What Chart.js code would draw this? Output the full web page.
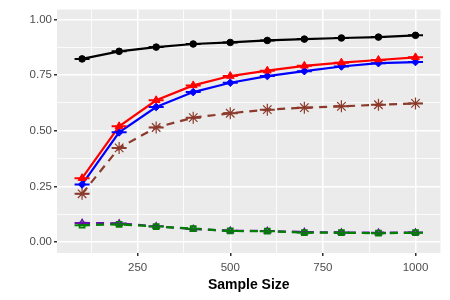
<!DOCTYPE html>
<html><head><meta charset="utf-8">
<script src="https://cdn.jsdelivr.net/npm/chart.js@4/dist/chart.umd.min.js"></script>
<style>html,body{margin:0;padding:0;background:#fff}#w{width:450px;height:300px}</style>
</head><body><div id="w"><canvas id="c" width="450" height="300"></canvas></div>
<script>
const sampleSizes = [100,200,300,400,500,600,700,800,900,1000];
const blackSeries = [0.823,0.857,0.876,0.890,0.897,0.906,0.912,0.917,0.921,0.929];
const redSeries   = [0.287,0.520,0.637,0.704,0.746,0.770,0.792,0.806,0.818,0.830];
const blueSeries  = [0.259,0.493,0.607,0.674,0.716,0.746,0.768,0.789,0.804,0.809];
const brownSeries = [0.217,0.423,0.515,0.559,0.579,0.595,0.604,0.610,0.617,0.623];
const greenSeries = [0.076,0.080,0.070,0.060,0.050,0.049,0.043,0.042,0.040,0.042];
const purpleSeries= [0.086,0.084,0.071,0.059,0.051,0.050,0.045,0.043,0.042,0.043];
const yTickLabels = ['0.00','0.25','0.50','0.75','1.00'];
const xTickLabels = ['250','500','750','1000'];

const pts = arr => sampleSizes.map((x,i)=>({x:x,y:arr[i]}));
function series(data,color,style,radius,dash,order,fill,pbw){
  return {data:pts(data),borderColor:color,backgroundColor:fill?color:'rgba(0,0,0,0)',borderWidth:2.2,
    borderDash:dash,pointStyle:style,pointRadius:radius,pointBorderWidth:pbw,pointBorderColor:color,
    pointBackgroundColor:fill?color:'rgba(0,0,0,0)',tension:0,order:order,showLine:true};
}
function errbar(data,color,order){
  return {data:pts(data),showLine:false,pointStyle:'line',pointRadius:7.5,pointBorderWidth:2,
    pointBorderColor:color,borderColor:color,order:order};
}
const panelBg = {id:'panelBg',beforeDraw(ch){const a=ch.chartArea,c=ch.ctx;c.save();c.fillStyle='#EBEBEB';c.fillRect(a.left,a.top,a.right-a.left,a.bottom-a.top);c.restore();}};
const isMajorX = v => Math.abs(v%250)<1e-6;
const isMajorY = v => Math.abs((v*4)-Math.round(v*4))<1e-6;

new Chart(document.getElementById('c'),{
  type:'scatter',
  data:{datasets:[
    series(purpleSeries,'#6A0DAD','triangle',3.5,[8,6],12,false,1.5),
    series(greenSeries,'#008000','rect',3.5,[8,6],11,false,1.8),
    series(brownSeries,'#8B3A2B','star',6,[8,6],10,false,1.2),
    series(blueSeries,'#0000FF','rectRot',3.8,[],9,true,1),
    series(redSeries,'#FF0000','triangle',4.5,[],8,true,1),
    series(blackSeries,'#000000','circle',3.3,[],7,true,1),
    errbar(purpleSeries,'#6A0DAD',6),
    errbar(greenSeries,'#008000',5),
    errbar(brownSeries,'#8B3A2B',4),
    errbar(blueSeries,'#0000FF',3),
    errbar(redSeries,'#FF0000',2),
    errbar(blackSeries,'#000000',1)
  ]},
  options:{
    responsive:false,animation:false,
    layout:{padding:{top:8,right:8,left:0,bottom:0}},
    plugins:{legend:{display:false},tooltip:{enabled:false}},
    elements:{line:{borderCapStyle:'butt'}},
    scales:{
      x:{type:'linear',min:32.3,max:1067.5,
        afterBuildTicks(s){s.ticks=[125,250,375,500,625,750,875,1000].map(v=>({value:v}));},
        afterFit(s){s.height=47;},
        ticks:{autoSkip:false,maxRotation:0,padding:5,color:'#4D4D4D',font:{family:'Liberation Sans, Arial',size:11.5},
          callback(v){const i=[250,500,750,1000].indexOf(v);return i>=0?xTickLabels[i]:'';}},
        grid:{color:'#FFFFFF',lineWidth:c=>isMajorX(c.tick.value)?1.5:0.8,
          tickColor:c=>isMajorX(c.tick.value)?'#333333':'rgba(0,0,0,0)',tickLength:3,drawTicks:true},
        border:{display:false},
        title:{display:true,text:'Sample Size',color:'#000',font:{family:'Liberation Sans, Arial',size:14,weight:'bold'},padding:{top:2,bottom:6}}
      },
      y:{type:'linear',min:-0.049,max:1.045,
        afterBuildTicks(s){s.ticks=[0,0.125,0.25,0.375,0.5,0.625,0.75,0.875,1].map(v=>({value:v}));},
        afterFit(s){s.width=57;},
        ticks:{autoSkip:false,padding:2,color:'#4D4D4D',font:{family:'Liberation Sans, Arial',size:11.5},
          callback(v){if(!isMajorY(v))return '';return yTickLabels[Math.round(v*4)];}},
        grid:{color:'#FFFFFF',lineWidth:c=>isMajorY(c.tick.value)?1.5:0.8,
          tickColor:c=>isMajorY(c.tick.value)?'#333333':'rgba(0,0,0,0)',tickLength:3,drawTicks:true},
        border:{display:false}
      }
    }
  },
  plugins:[panelBg]
});
</script></body></html>
